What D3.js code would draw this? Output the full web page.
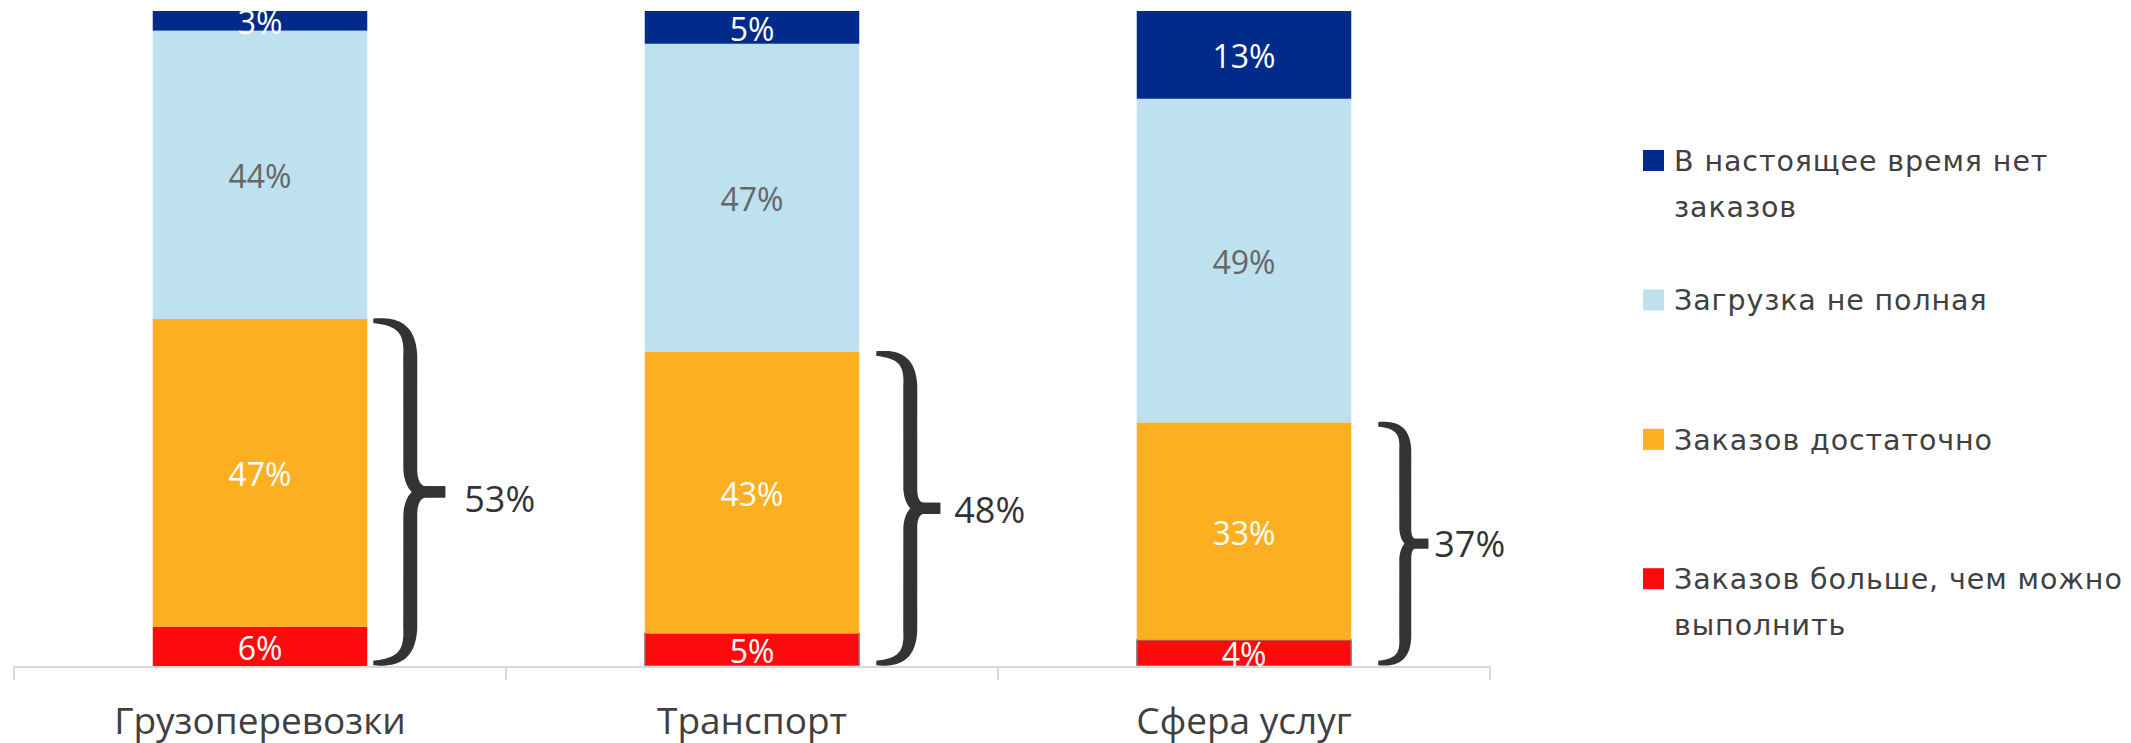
<!DOCTYPE html>
<html>
<head>
<meta charset="utf-8">
<script src="https://cdn.jsdelivr.net/npm/d3@7"></script>
<style>
  body { margin: 0; background: #fff; }
  svg { display: block; font-family: "Open Sans", "Noto Sans", sans-serif; }
</style>
</head>
<body>
<svg id="chart" width="2131" height="743"></svg>
<script>
// categories and series (bottom to top of each stack)
var categories = ["Грузоперевозки", "Транспорт", "Сфера услуг"];
var seriesKeys = ["more", "enough", "notFull", "none"];
var moreThanPossible = [6, 5, 4.0];
var enough = [47, 43, 33.2];
var notFull = [44, 47, 49.4];
var noOrders = [3, 5, 13.4];

// legend text, top to bottom
var legendLines = [
  ["В настоящее время нет", "заказов"],
  ["Загрузка не полная"],
  ["Заказов достаточно"],
  ["Заказов больше, чем можно", "выполнить"]
];

var colors = { more: "#FF0A0C", enough: "#FDAF22", notFull: "#BDE1EF", none: "#002B8A" };
var labelColors = { more: "#fff", enough: "#fff", notFull: "#666", none: "#fff" };

// brace placement per category (offsets from bar edge, thickness)
var braceLayout = [
  { gap: 6,  arm: 37, tip: 35, w: 14, textGap: 19, dy: 7 },
  { gap: 17, arm: 34, tip: 30, w: 14, textGap: 14, dy: 1 },
  { gap: 27, arm: 27, tip: 23, w: 12, textGap: 6,  dy: 0 }
];

var table = categories.map(function (c, i) {
  return { cat: c, more: moreThanPossible[i], enough: enough[i], notFull: notFull[i], none: noOrders[i] };
});

var svg = d3.select("#chart");
var plotTop = 11, plotBottom = 666;

var x = d3.scaleBand()
  .domain(categories)
  .range([14, 1490])
  .paddingInner(0.564)
  .paddingOuter(0.282);

var y = d3.scaleLinear().domain([0, 100]).range([plotBottom, plotTop]);

var stacked = d3.stack().keys(seriesKeys)(table);

svg.append("clipPath").attr("id", "plotClip")
  .append("rect")
  .attr("x", 0).attr("y", plotTop)
  .attr("width", 1600).attr("height", plotBottom - plotTop);

// bars
var layers = svg.append("g").selectAll("g")
  .data(stacked)
  .enter()
  .append("g")
  .attr("fill", function (d) { return colors[d.key]; });

layers.selectAll("rect")
  .data(function (d) { return d.map(function (p, i) { p.key = d.key; p.i = i; return p; }); })
  .enter()
  .append("rect")
  .attr("x", function (d) { return x(d.data.cat); })
  .attr("width", x.bandwidth())
  .attr("y", function (d) { return y(d[1]); })
  .attr("height", function (d) { return y(d[0]) - y(d[1]); })
  .attr("stroke", function (d) { return (d.key === "more" && d.i > 0) ? "#8c8c8c" : "none"; })
  .attr("stroke-width", 1.5);

// value labels
var labels = svg.append("g").attr("clip-path", "url(#plotClip)");
stacked.forEach(function (layer) {
  labels.selectAll(null)
    .data(layer)
    .enter()
    .append("text")
    .attr("x", function (d) { return x(d.data.cat) + x.bandwidth() / 2; })
    .attr("y", function (d) { return (y(d[0]) + y(d[1])) / 2 + 1; })
    .attr("text-anchor", "middle")
    .attr("dominant-baseline", "central")
    .style("font-size", "32px")
    .attr("fill", labelColors[layer.key])
    .text(function (d) { return Math.round(d[1] - d[0]) + "%"; });
});

// axis line + ticks between categories
var axisG = svg.append("g");
axisG.append("line")
  .attr("x1", x.range()[0]).attr("x2", x.range()[1])
  .attr("y1", plotBottom + 1).attr("y2", plotBottom + 1)
  .attr("stroke", "#d9d9d9").attr("stroke-width", 2);
d3.range(categories.length + 1).forEach(function (i) {
  var tx = x.range()[0] + i * x.step();
  axisG.append("line")
    .attr("x1", tx).attr("x2", tx)
    .attr("y1", plotBottom).attr("y2", plotBottom + 14)
    .attr("stroke", "#d9d9d9").attr("stroke-width", 2);
});

var xAxis = svg.append("g")
  .attr("transform", "translate(0," + plotBottom + ")")
  .call(d3.axisBottom(x).tickSize(0).tickPadding(0));
xAxis.select(".domain").remove();
xAxis.selectAll("text")
  .attr("y", 68)
  .attr("dy", 0)
  .style("font-family", "\"Open Sans\", sans-serif")
  .style("font-size", "37px")
  .attr("fill", "#404040");

// brace outline: sample centerline, offset by varying thickness
function cubic(p0, p1, p2, p3, t) {
  var u = 1 - t;
  return [
    u*u*u*p0[0] + 3*u*u*t*p1[0] + 3*u*t*t*p2[0] + t*t*t*p3[0],
    u*u*u*p0[1] + 3*u*u*t*p1[1] + 3*u*t*t*p2[1] + t*t*t*p3[1]
  ];
}

function halfBrace(x0, xv, x1, yT, yM, wv) {
  var rA = (xv - x0) * 0.95, rC = (x1 - xv) * 0.7, xm = xv + (x1 - xv) * 0.45;
  var we = 4.5, wt = wv * 0.8;
  var pts = [];
  var n = 24, t, p;
  for (var k = 0; k <= n; k++) {
    t = k / n;
    p = cubic([x0, yT], [x0 + (xv - x0) * 0.75, yT], [xv, yT + rA * 0.3], [xv, yT + rA], t);
    pts.push({ x: p[0], y: p[1], w: we + (wv - we) * Math.pow(t, 0.8) });
  }
  for (k = 1; k <= n; k++) {
    t = k / n;
    p = cubic([xv, yM - rC], [xv, yM - rC * 0.35], [xv + (xm - xv) * 0.4, yM], [xm, yM], t);
    pts.push({ x: p[0], y: p[1], w: wv + (wt - wv) * t });
  }
  pts.push({ x: x1, y: yM, w: wt });

  var left = [], right = [];
  pts.forEach(function (q, i) {
    var a = pts[Math.max(i - 1, 0)], b = pts[Math.min(i + 1, pts.length - 1)];
    var dx = b.x - a.x, dy = b.y - a.y, len = Math.sqrt(dx * dx + dy * dy) || 1;
    var nx = -dy / len, ny = dx / len;
    left.push([q.x + nx * q.w / 2, q.y + ny * q.w / 2]);
    right.push([q.x - nx * q.w / 2, q.y - ny * q.w / 2]);
  });
  return left.concat(right.reverse());
}

var line = d3.line();
var braces = svg.append("g");
categories.forEach(function (c, i) {
  var L = braceLayout[i];
  var x0 = x(c) + x.bandwidth() + L.gap;
  var xv = x0 + L.arm;
  var x1 = xv + L.tip;
  var yT = y(moreThanPossible[i] + enough[i]) + 2;
  var yB = y(0) - 3;
  var yM = (yT + yB) / 2;

  var upper = halfBrace(x0, xv, x1, yT, yM, L.w);
  var lower = upper.map(function (p) { return [p[0], 2 * yM - p[1]]; });
  braces.append("path").attr("d", line(upper) + "Z").attr("fill", "#333");
  braces.append("path").attr("d", line(lower) + "Z").attr("fill", "#333");

  braces.append("text")
    .attr("x", x1 + L.textGap)
    .attr("y", yM + L.dy)
    .attr("dominant-baseline", "central")
    .style("font-size", "36px")
    .attr("fill", "#333")
    .text(Math.round(moreThanPossible[i] + enough[i]) + "%");
});

// legend
var legendKeys = seriesKeys.slice().reverse();
var legend = svg.append("g").attr("transform", "translate(1643,150)");
legendKeys.forEach(function (k, i) {
  var g = legend.append("g").attr("transform", "translate(0," + (i * 139.4) + ")");
  g.append("rect").attr("width", 21).attr("height", 21).attr("fill", colors[k]);
  g.append("text")
    .attr("x", 31)
    .style("font-family", "\"DejaVu Sans\", sans-serif")
    .style("font-size", "28.5px")
    .style("letter-spacing", "0.9px")
    .attr("fill", "#404040")
    .selectAll("tspan")
    .data(legendLines[i])
    .enter()
    .append("tspan")
    .attr("x", 31)
    .attr("y", function (d, j) { return 21 + j * 46; })
    .text(function (d) { return d; });
});
</script>
</body>
</html>
